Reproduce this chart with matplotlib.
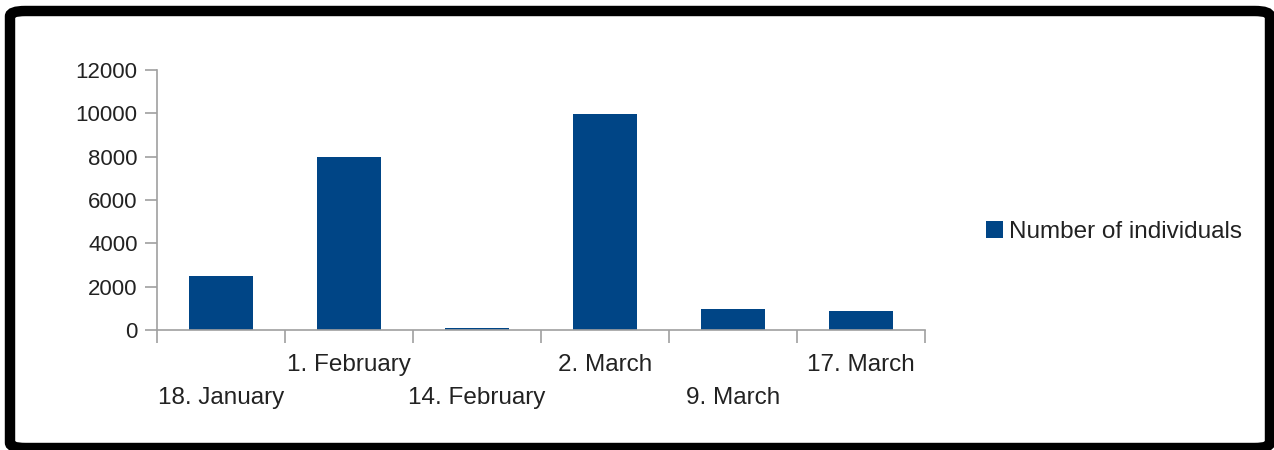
import numpy as np
from matplotlib import pyplot as plt
from matplotlib.patches import FancyBboxPatch

dates = ['18. January', '1. February', '14. February', '2. March',
         '9. March', '17. March']
individuals = [2500, 8000, 100, 9950, 970, 900]
y_ticks = [0, 2000, 4000, 6000, 8000, 10000, 12000]

plt.rcParams['font.family'] = ['Liberation Sans', 'DejaVu Sans']

fig = plt.figure(figsize=(12.74, 4.5), dpi=100)
ax = fig.add_axes([157 / 1274, 1 - 330 / 450, 768 / 1274, 260 / 450])

index = np.arange(len(dates))
ax.bar(index, individuals, 0.5, color='#004586', label='Number of individuals')

ax.set_xlim(-0.5, len(dates) - 0.5)
ax.set_ylim(0, 12000)
ax.set_yticks(y_ticks)

# staggered category labels: even ones on the second row
labels = [('\n' + d) if i % 2 == 0 else d for i, d in enumerate(dates)]
ax.set_xticks(index)
ax.set_xticklabels(labels, linespacing=1.6)
ax.set_xticks(np.arange(len(dates) + 1) - 0.5, minor=True)

axis_col = '#a0a0a0'
for s in ['top', 'right']:
    ax.spines[s].set_visible(False)
for s in ['left', 'bottom']:
    ax.spines[s].set_color(axis_col)
    ax.spines[s].set_linewidth(1.2)

ax.tick_params(axis='y', length=9, width=1.2, color=axis_col, pad=5,
               labelsize=16, labelcolor='#222222')
ax.tick_params(axis='x', which='major', length=0, pad=17.5,
               labelsize=17.5, labelcolor='#222222')
ax.tick_params(axis='x', which='minor', length=9, width=1.2, color=axis_col)

fig.legend(loc='center left', bbox_to_anchor=(964 / 1274, 1 - 232 / 450),
           frameon=False, fontsize=17.5, handlelength=0.7, handleheight=0.65,
           handletextpad=0.25, labelcolor='#222222')

# thick black frame around the picture
frame = FancyBboxPatch((10 / 1274, 2 / 450), 1260 / 1274, 437 / 450,
                       boxstyle='round,pad=0,rounding_size=0.012',
                       transform=fig.transFigure, facecolor='none',
                       edgecolor='black', linewidth=7.5, zorder=10)
fig.patches.append(frame)

plt.savefig('out.png', dpi=100)
